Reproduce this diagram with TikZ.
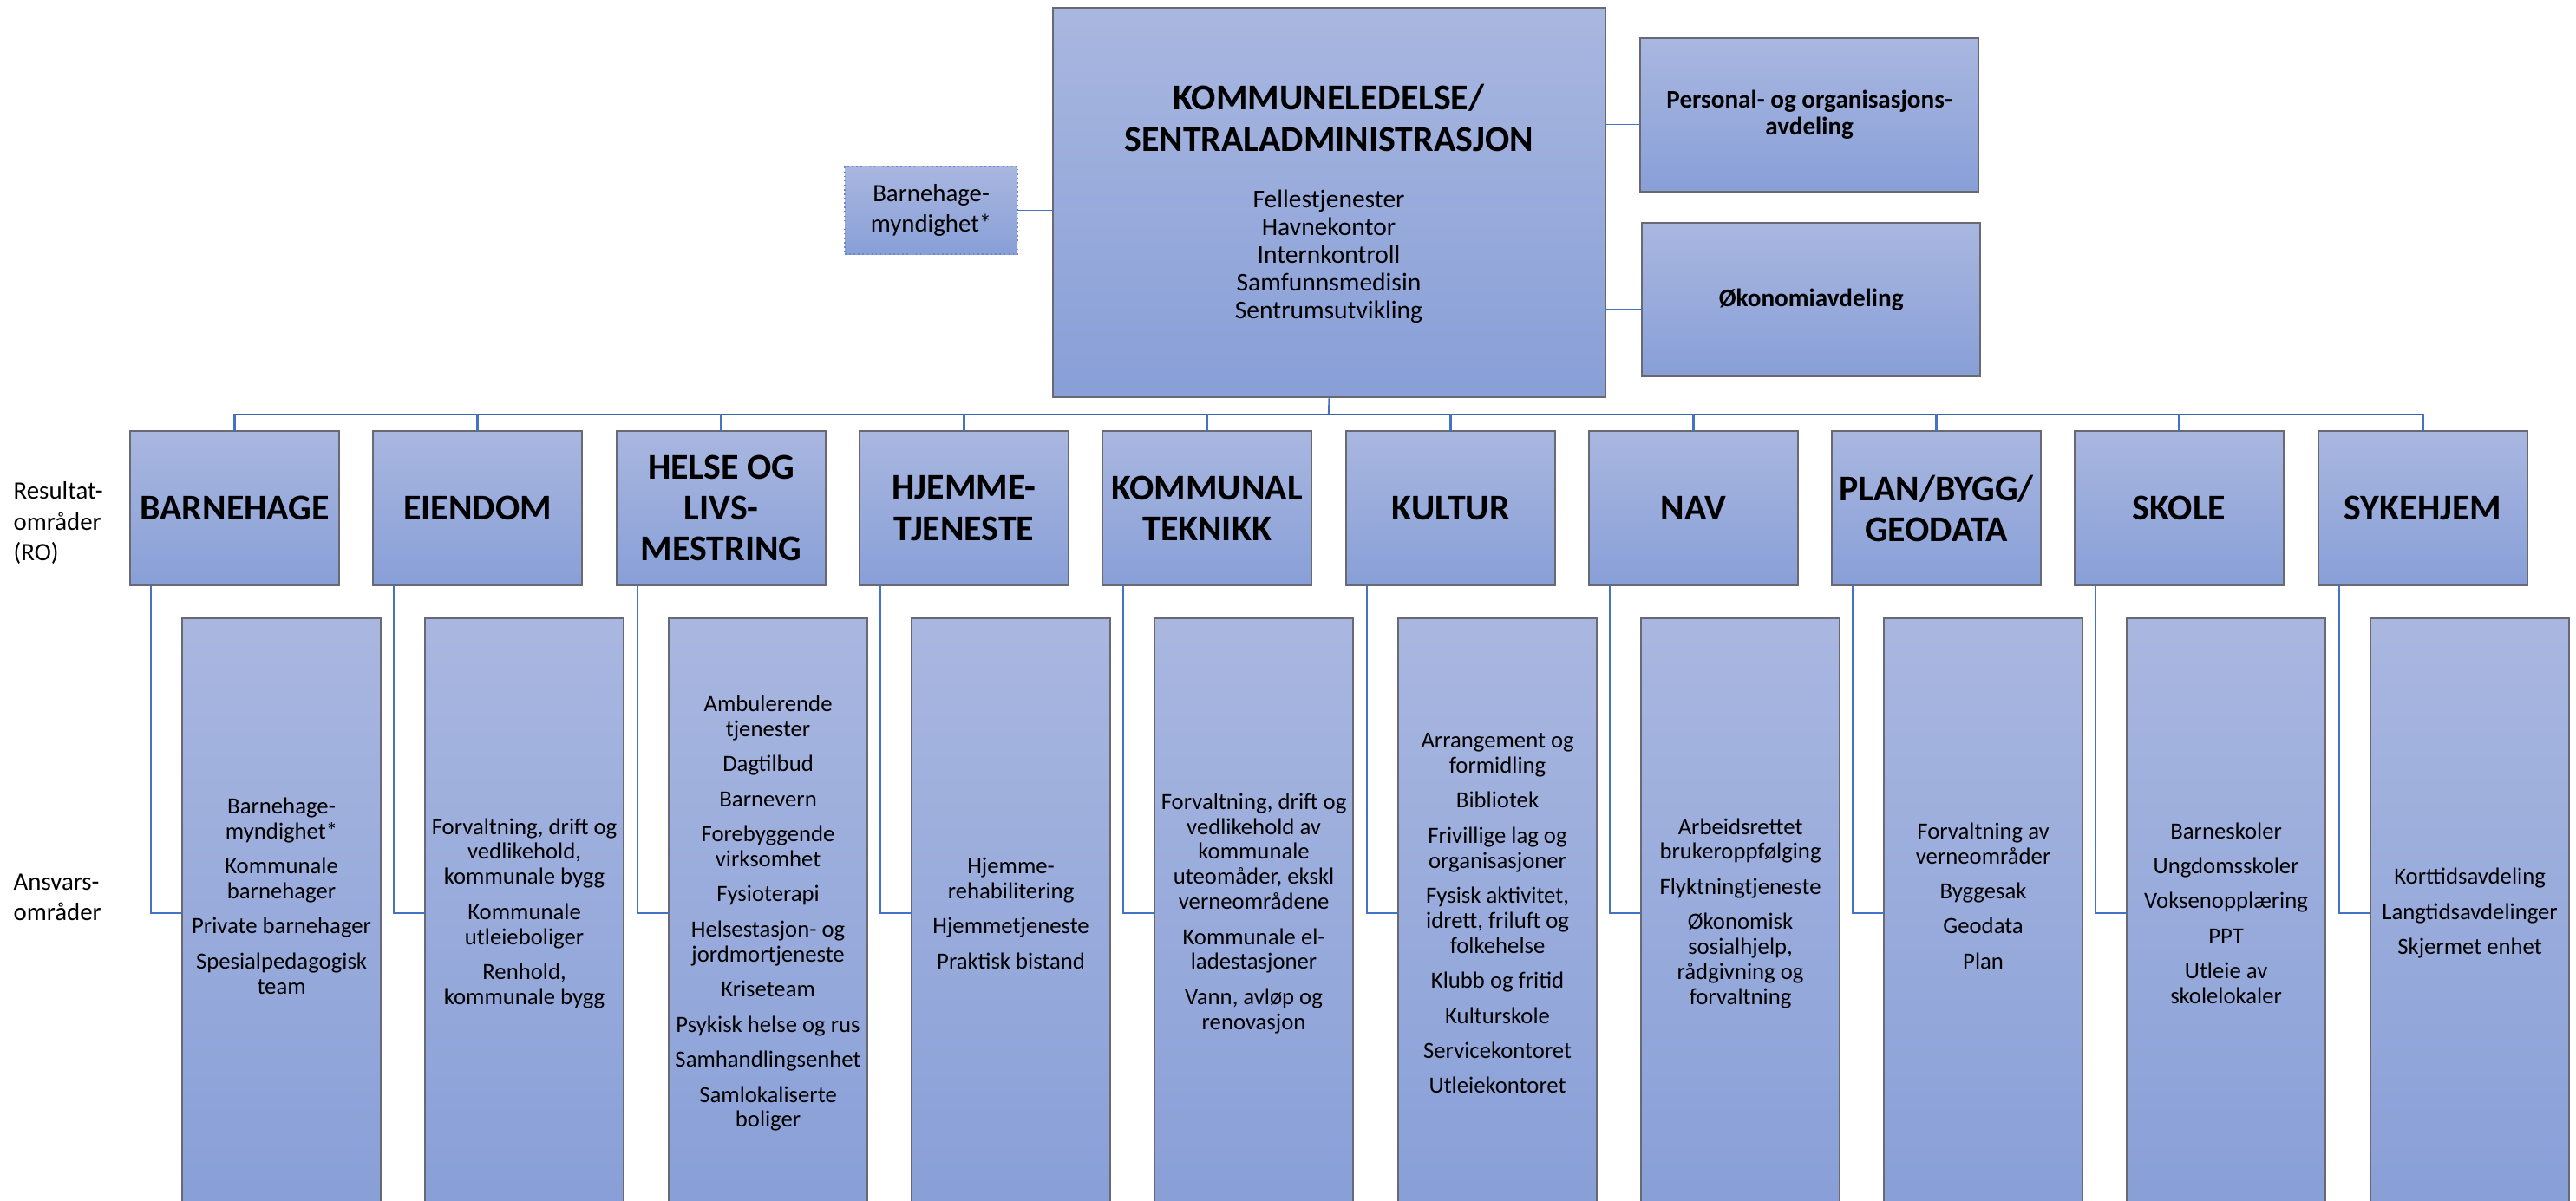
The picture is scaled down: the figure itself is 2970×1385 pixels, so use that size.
\documentclass[tikz,border=0pt]{standalone}
\usepackage{fontspec}
\setmainfont{Carlito}
\usepackage{tikz}

\definecolor{boksTopp}{RGB}{169,183,224}
\definecolor{boksBunn}{RGB}{136,159,215}
\definecolor{kant}{RGB}{105,105,115}
\definecolor{kantPrikk}{RGB}{110,135,200}
\definecolor{strek}{RGB}{68,114,196}
\definecolor{buss}{RGB}{60,98,175}

\tikzset{
  boks/.style={draw=kant, line width=0.45pt, top color=boksTopp, bottom color=boksBunn,
    inner sep=0pt, outer sep=0pt, align=center, anchor=north west},
  roboks/.style={boks, minimum width=2.41cm, minimum height=1.78cm,
    font=\bfseries\fontsize{11.9}{13.4}\selectfont},
  ansvarboks/.style={boks, minimum width=2.29cm, minimum height=6.8cm,
    font=\fontsize{7.6}{8.2}\selectfont},
  stabboks/.style={boks, minimum width=3.9cm, minimum height=1.77cm,
    font=\bfseries\fontsize{8.3}{8.8}\selectfont},
  linje/.style={draw=strek, line width=0.65pt},
  busslinje/.style={draw=buss, line width=0.8pt},
  tynnlinje/.style={draw=strek, line width=0.4pt},
  etikett/.style={anchor=west, align=left, inner sep=0pt, font=\fontsize{8.2}{10}\selectfont}
}
\newcommand{\mellom}{\\[3.3pt]}

\begin{document}
\begin{tikzpicture}[x=0.01cm,y=-0.01cm]
  \useasboundingbox (0,0) rectangle (2970,1385);
  \clip (0,0) rectangle (2970,1385);

  % Kommuneledelse og stab
  \node[boks, minimum width=6.37cm, minimum height=4.49cm] (hoved) at (1214,9) {};
  \node[align=center, font=\bfseries\fontsize{11.9}{13.4}\selectfont] (tittel) at (1532,136)
    {KOMMUNELEDELSE/\\SENTRALADMINISTRASJON};
  \node[align=center, font=\fontsize{8.4}{9.1}\selectfont] (fellesliste) at (1532,296)
    {Fellestjenester\\Havnekontor\\Internkontroll\\Samfunnsmedisin\\Sentrumsutvikling};
  \node[boks, draw=kantPrikk, densely dotted, minimum width=1.99cm, minimum height=1.01cm,
    font=\fontsize{8.2}{10}\selectfont] (bhmyndighet) at (974,192) {Barnehage-\\myndighet*};
  \node[stabboks] (personal) at (1891,44) {Personal- og organisasjons-\\avdeling};
  \node[stabboks] (okonomi) at (1893,257) {Økonomiavdeling};

  \draw[tynnlinje] (bhmyndighet.east) -- (bhmyndighet.east -| hoved.west);
  \draw[tynnlinje] ([yshift=-0.11cm]personal.west -| hoved.east) -- ([yshift=-0.11cm]personal.west);
  \draw[tynnlinje] ([yshift=-0.11cm]okonomi.west -| hoved.east) -- ([yshift=-0.11cm]okonomi.west);

  % Venstre etiketter
  \node[etikett] (resultat) at (15,603) {Resultat-\\områder\\(RO)};
  \node[etikett] (ansvar) at (15,1035) {Ansvars-\\områder};

  % Resultatområder
  \node[roboks] (ro1) at (150,497) {BARNEHAGE};
  \node[roboks] (ro2) at (430,497) {EIENDOM};
  \node[roboks] (ro3) at (711,497) {HELSE OG\\LIVS-\\MESTRING};
  \node[roboks] (ro4) at (991,497) {HJEMME-\\TJENESTE};
  \node[roboks] (ro5) at (1271,497) {KOMMUNAL\\TEKNIKK};
  \node[roboks] (ro6) at (1552,497) {KULTUR};
  \node[roboks] (ro7) at (1832,497) {NAV};
  \node[roboks] (ro8) at (2112,497) {PLAN/BYGG/\\GEODATA};
  \node[roboks] (ro9) at (2392,497) {SKOLE};
  \node[roboks] (ro10) at (2673,497) {SYKEHJEM};

  % Ansvarsområder
  \node[ansvarboks] (ans1) at (210,713) {Barnehage-\\myndighet*\mellom Kommunale\\barnehager\mellom
    Private barnehager\mellom Spesialpedagogisk\\team\mellom\mbox{}};
  \node[ansvarboks] (ans2) at (490,713) {Forvaltning, drift og\\vedlikehold,\\kommunale bygg\mellom
    Kommunale\\utleieboliger\mellom Renhold,\\kommunale bygg};
  \node[ansvarboks] (ans3) at (771,713) {Ambulerende\\tjenester\mellom Dagtilbud\mellom Barnevern\mellom
    Forebyggende\\virksomhet\mellom Fysioterapi\mellom Helsestasjon- og\\jordmortjeneste\mellom
    Kriseteam\mellom Psykisk helse og rus\mellom Samhandlingsenhet\mellom Samlokaliserte\\boliger};
  \node[ansvarboks] (ans4) at (1051,713) {Hjemme-\\rehabilitering\mellom Hjemmetjeneste\mellom Praktisk bistand};
  \node[ansvarboks] (ans5) at (1331,713) {Forvaltning, drift og\\vedlikehold av\\kommunale\\uteomåder, ekskl\\verneområdene\mellom
    Kommunale el-\\ladestasjoner\mellom Vann, avløp og\\renovasjon};
  \node[ansvarboks] (ans6) at (1612,713) {Arrangement og\\formidling\mellom Bibliotek\mellom Frivillige lag og\\organisasjoner\mellom
    Fysisk aktivitet,\\idrett, friluft og\\folkehelse\mellom Klubb og fritid\mellom Kulturskole\mellom
    Servicekontoret\mellom Utleiekontoret};
  \node[ansvarboks] (ans7) at (1892,713) {Arbeidsrettet\\brukeroppfølging\mellom Flyktningtjeneste\mellom
    Økonomisk\\sosialhjelp,\\rådgivning og\\forvaltning};
  \node[ansvarboks] (ans8) at (2172,713) {Forvaltning av\\verneområder\mellom Byggesak\mellom Geodata\mellom Plan\mellom\mbox{}};
  \node[ansvarboks] (ans9) at (2452,713) {Barneskoler\mellom Ungdomsskoler\mellom Voksenopplæring\mellom PPT\mellom
    Utleie av\\skolelokaler};
  \node[ansvarboks] (ans10) at (2733,713) {Korttidsavdeling\mellom Langtidsavdelinger\mellom Skjermet enhet};

  % Linjer
  \coordinate (buss) at (1532,478);
  \draw[linje] (hoved.south) -- (buss);
  \draw[busslinje] (ro1.north |- buss) -- (ro10.north |- buss);
  \foreach \i in {1,...,10} {
    \draw[linje] (ro\i.north) -- (ro\i.north |- buss);
    \draw[linje] ([xshift=0.24cm]ro\i.south west) |- (ans\i.west);
  }
\end{tikzpicture}
\end{document}
